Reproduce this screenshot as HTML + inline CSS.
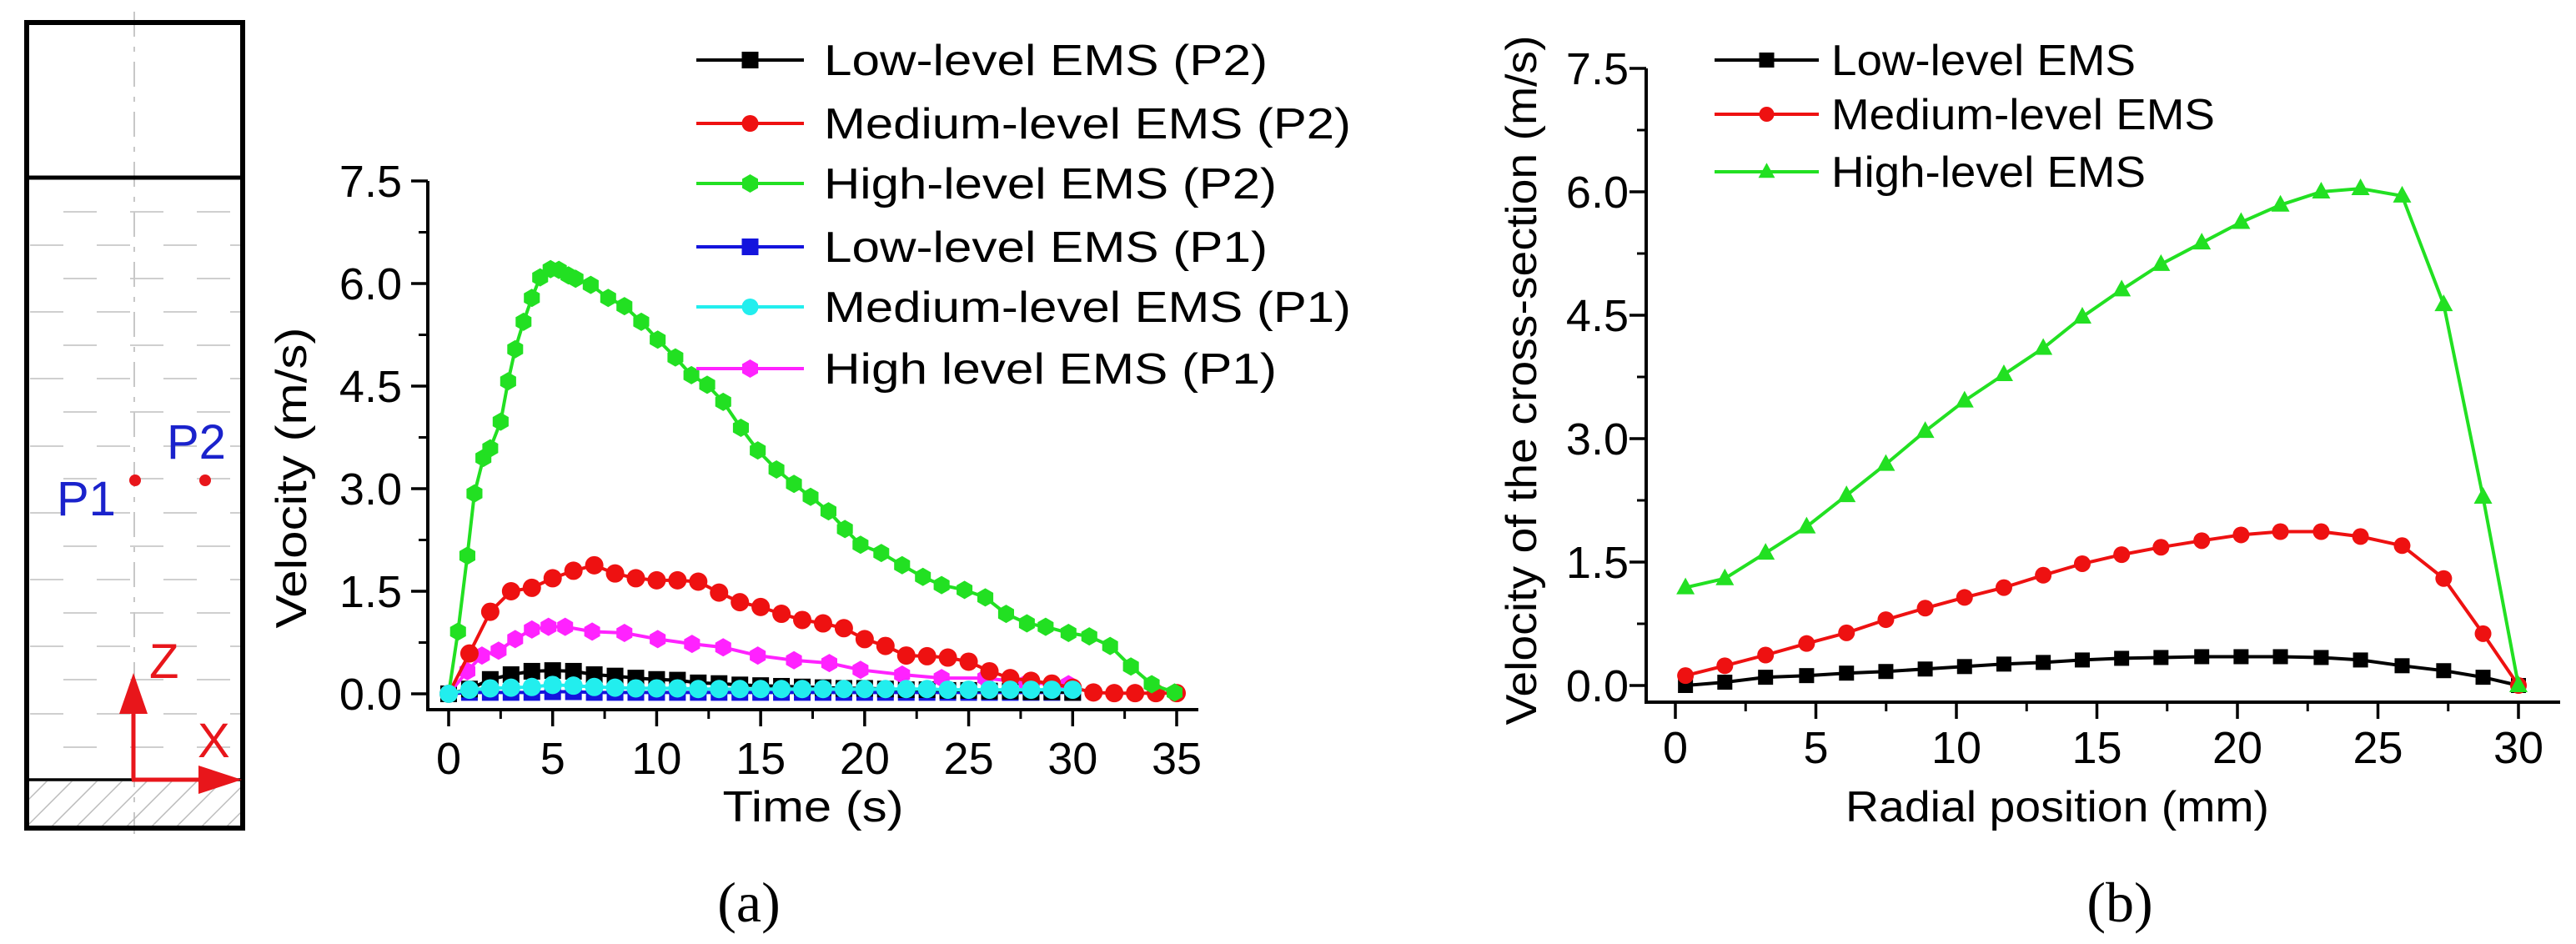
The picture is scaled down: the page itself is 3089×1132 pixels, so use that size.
<!DOCTYPE html>
<html><head><meta charset="utf-8">
<style>
html,body{margin:0;padding:0;background:#fff;}
svg{display:block;font-family:"Liberation Sans",Arial,sans-serif;}
</style></head>
<body>
<svg id="fig" width="3089" height="1132" viewBox="0 0 3089 1132" xmlns="http://www.w3.org/2000/svg">
<defs><clipPath id="hatch-clip"><rect x="35" y="937" width="253" height="54"/></clipPath></defs>
<g id="diagram"></g>
<g id="chartA"></g>
<g id="chartB"></g>
<text x="898" y="1105" font-family="Liberation Serif,serif" font-size="68" text-anchor="middle">(a)</text>
<text x="2542" y="1105" font-family="Liberation Serif,serif" font-size="68" text-anchor="middle">(b)</text>
</svg>
<script>
// ---------- Chart (a) data ----------
const aHighP2T = [0,0.45,0.9,1.24,1.67,2.0,2.5,2.86,3.2,3.6,4.0,4.4,4.9,5.3,5.76,6.1,6.83,7.67,8.45,9.26,10.05,10.9,11.67,12.43,13.2,14.05,14.86,15.76,16.6,17.4,18.26,19.05,19.8,20.8,21.8,22.8,23.7,24.8,25.8,26.8,27.8,28.7,29.8,30.8,31.8,32.8,33.8,34.9];
const aHighP2V = [0,0.91,2.02,2.93,3.45,3.59,3.98,4.57,5.04,5.44,5.79,6.09,6.21,6.2,6.12,6.07,5.98,5.79,5.67,5.44,5.18,4.92,4.66,4.52,4.27,3.89,3.56,3.28,3.07,2.88,2.67,2.41,2.18,2.06,1.88,1.71,1.59,1.52,1.41,1.17,1.03,0.98,0.89,0.84,0.70,0.40,0.14,0.02];
const aMedP2T = [0,1,2,3,4,5,6,7,8,9,10,11,12,13,14,15,16,17,18,19,20,21,22,23,24,25,26,27,28,29,30,31,32,33,34,35];
const aMedP2V = [0,0.59,1.2,1.5,1.55,1.69,1.8,1.88,1.76,1.69,1.66,1.66,1.64,1.48,1.34,1.27,1.17,1.08,1.03,0.96,0.80,0.70,0.56,0.55,0.53,0.47,0.33,0.23,0.19,0.15,0.09,0.02,0.01,0.01,0.01,0.01];
const aHighP1T = [0,0.9,1.6,2.4,3.2,4.0,4.8,5.6,6.9,8.45,10.05,11.7,13.2,14.86,16.6,18.3,19.8,21.8,23.7,25.8,27.8,29.8];
const aHighP1V = [0,0.33,0.56,0.63,0.80,0.94,0.98,0.98,0.91,0.89,0.80,0.73,0.68,0.56,0.49,0.45,0.35,0.28,0.23,0.23,0.16,0.14];
const aT30 = [0,1,2,3,4,5,6,7,8,9,10,11,12,13,14,15,16,17,18,19,20,21,22,23,24,25,26,27,28,29,30];
const aLowP2V = [0,0.07,0.21,0.28,0.33,0.34,0.33,0.28,0.26,0.23,0.21,0.2,0.16,0.15,0.13,0.12,0.11,0.1,0.09,0.08,0.08,0.07,0.06,0.06,0.05,0.05,0.04,0.04,0.03,0.03,0.02];
const aMedP1V = [0,0.06,0.08,0.09,0.1,0.13,0.12,0.1,0.09,0.08,0.08,0.08,0.07,0.07,0.07,0.07,0.07,0.07,0.07,0.07,0.07,0.07,0.07,0.07,0.06,0.06,0.06,0.06,0.06,0.06,0.06];
const aLowP1V = [0,0.02,0.02,0.02,0.02,0.03,0.03,0.02,0.02,0.02,0.02,0.02,0.02,0.02,0.02,0.02,0.02,0.02,0.02,0.02,0.02,0.02,0.02,0.02,0.02,0.02,0.02,0.02,0.02,0.02,0.02];
const aXTicks = [0,5,10,15,20,25,30,35];
const aYTicks = [0,1.5,3,4.5,6,7.5];
const aYLabels = ["0.0","1.5","3.0","4.5","6.0","7.5"];
const aLegend = ["Low-level EMS (P2)","Medium-level EMS (P2)","High-level EMS (P2)","Low-level EMS (P1)","Medium-level EMS (P1)","High level EMS (P1)"];

// ---------- Chart (b) data ----------
const bR = [0.36,1.76,3.21,4.67,6.09,7.49,8.89,10.29,11.69,13.09,14.48,15.88,17.28,18.73,20.13,21.53,22.98,24.38,25.86,27.34,28.74,30];
const bHigh = [1.19,1.30,1.61,1.93,2.31,2.69,3.09,3.46,3.78,4.10,4.48,4.81,5.12,5.38,5.63,5.84,6.00,6.04,5.95,4.63,2.29,0];
const bMed = [0.12,0.24,0.37,0.51,0.64,0.80,0.94,1.07,1.19,1.34,1.48,1.59,1.68,1.76,1.83,1.87,1.87,1.81,1.70,1.30,0.63,0];
const bLow = [0,0.04,0.10,0.12,0.15,0.17,0.20,0.23,0.26,0.28,0.31,0.33,0.34,0.35,0.35,0.35,0.34,0.31,0.24,0.18,0.10,0];
const bXTicks = [0,5,10,15,20,25,30];
const bYTicks = [0,1.5,3,4.5,6,7.5];
const bYLabels = ["0.0","1.5","3.0","4.5","6.0","7.5"];
const bLegend = ["Low-level EMS","Medium-level EMS","High-level EMS"];

const NS = "http://www.w3.org/2000/svg";
function mk(tag, attrs, parent){
  const e = document.createElementNS(NS, tag);
  for (const k in attrs) e.setAttribute(k, attrs[k]);
  if (parent) parent.appendChild(e);
  return e;
}
function marker(g, shape, x, y, s, color){
  let e;
  if (shape === "square") e = mk("rect", {x:x-s, y:y-s, width:2*s, height:2*s, fill:color}, g);
  else if (shape === "circle") e = mk("circle", {cx:x, cy:y, r:s, fill:color}, g);
  else if (shape === "hex") {
    const p=[]; for(let i=0;i<6;i++){const a=Math.PI/6+i*Math.PI/3; p.push((x+s*1.1*Math.cos(a)).toFixed(1)+","+(y+s*1.1*Math.sin(a)).toFixed(1));}
    e = mk("polygon", {points:p.join(" "), fill:color}, g);
  } else if (shape === "tri") {
    e = mk("polygon", {points:`${x},${y-s*1.2} ${x-s*1.1},${y+s*0.8} ${x+s*1.1},${y+s*0.8}`, fill:color}, g);
  }
  return e;
}

// ---------- Diagram ----------
(function(){
  const g = document.getElementById("diagram");
  const rows = [254,294,334,374,414,454,494,535,574,615,655,695,735,775,815,856,896];
  rows.forEach((y,i)=>{
    const l = mk("line",{x1:36,y1:y,x2:288,y2:y,stroke:"#cfcfcf","stroke-width":2,"stroke-dasharray":"40 40","stroke-dashoffset":(i%2?0:40)},g);
    
    
  });
  const cl = mk("line",{x1:161,y1:14,x2:161,y2:1000,stroke:"#c8c8c8","stroke-width":2,"stroke-dasharray":"30 12 6 12"},g);
  
  
  const hg = mk("g",{"clip-path":"url(#hatch-clip)"},g);
  
  
  for (let x=0; x<320; x+=30){
    mk("line",{x1:x,y1:993,x2:x+58,y2:935,stroke:"#bbbbbb","stroke-width":1.5},hg);
  }
  const box = mk("rect",{x:32,y:27,width:259,height:966,fill:"none",stroke:"#000","stroke-width":6},g);
  
  
  const top = mk("line",{x1:32,y1:213,x2:291,y2:213,stroke:"#000","stroke-width":5},g);
  
  
  const bot = mk("line",{x1:32,y1:935,x2:291,y2:935,stroke:"#000","stroke-width":3.5},g);
  
  
  const d1 = mk("circle",{cx:162,cy:576,r:7,fill:"#e8161b"},g);
  
  
  const d2 = mk("circle",{cx:246,cy:576,r:7,fill:"#e8161b"},g);
  
  
  const t1 = mk("text",{x:68,y:618,"font-size":58,fill:"#1a22cc"},g); t1.textContent="P1";
  
  
  const t2 = mk("text",{x:200,y:550,"font-size":58,fill:"#1a22cc"},g); t2.textContent="P2";
  
  
  const red="#e8161b";
  const za = mk("g",{},g);
  
  
  mk("line",{x1:160,y1:935,x2:160,y2:852,stroke:red,"stroke-width":5},za);
  mk("polygon",{points:"160,807 143,856 177,856",fill:red},za);
  const xa = mk("g",{},g);
  
  
  mk("line",{x1:158,y1:935,x2:242,y2:935,stroke:red,"stroke-width":5},xa);
  mk("polygon",{points:"290,935 238,918 238,952",fill:red},xa);
  const tz = mk("text",{x:179,y:813,"font-size":58,fill:red},g); tz.textContent="Z";
  
  
  const tx = mk("text",{x:237,y:908,"font-size":58,fill:red},g); tx.textContent="X";
  
  
})();

// ---------- generic chart ----------
function drawAxes(g, cfg){
  const {xScale,yScale,axX,axY,axRight,axTop,xTicks,xMinor,yTicks,yLabels,yMinorStep,yMax,tickBase,ylabRight} = cfg;
  const ax = mk("path",{d:`M${axX},${axTop} L${axX},${axY} L${axRight},${axY}`,fill:"none",stroke:"#000","stroke-width":4},g);
  
  
  xTicks.forEach(v=>{
    const x=xScale(v);
    mk("line",{x1:x,y1:axY,x2:x,y2:axY+20,stroke:"#000","stroke-width":3.5},g);
    const t=mk("text",{x:x,y:tickBase,"font-size":54,"text-anchor":"middle"},g); t.textContent=v;
    
    
  });
  xMinor.forEach(v=>{ const x=xScale(v); mk("line",{x1:x,y1:axY,x2:x,y2:axY+11,stroke:"#000","stroke-width":3},g); });
  for (let v=0; v<=yMax+1e-6; v+=yMinorStep){
    const y=yScale(v);
    mk("line",{x1:axX,y1:y,x2:axX-11,y2:y,stroke:"#000","stroke-width":3},g);
  }
  yTicks.forEach((v,i)=>{
    const y=yScale(v);
    mk("line",{x1:axX,y1:y,x2:axX-20,y2:y,stroke:"#000","stroke-width":3.5},g);
    const t=mk("text",{x:ylabRight,y:y+19,"font-size":54,"text-anchor":"end"},g); t.textContent=yLabels[i];
    
    
  });
}
function drawSeries(g, xs, ys, xScale, yScale, color, shape, size, name){
  const sg = mk("g",{},g);
  
  
  const pts = xs.map((x,i)=>xScale(x).toFixed(1)+","+yScale(ys[i]).toFixed(1)).join(" ");
  mk("polyline",{points:pts,fill:"none",stroke:color,"stroke-width":4},sg);
  xs.forEach((x,i)=>{
    const m = marker(sg, shape, xScale(x), yScale(ys[i]), size, color);
    
    
  });
}
function legendEntry(g, x1, x2, y, color, shape, size, label, tx, tlen){
  const lg = mk("g",{},g);
  
  
  mk("line",{x1:x1,y1:y,x2:x2,y2:y,stroke:color,"stroke-width":4},lg);
  marker(lg, shape, (x1+x2)/2, y, size, color);
  const t = mk("text",{x:tx,y:y+18,"font-size":52,textLength:tlen,lengthAdjust:"spacingAndGlyphs"},lg);
  t.textContent = label;
}

// ---------- Chart (a) ----------
(function(){
  const g = document.getElementById("chartA");
  const xScale = v => 538 + v*(1411-538)/35;
  const yScale = v => 832 - v*(832-217)/7.5;
  drawAxes(g,{xScale,yScale,axX:513,axY:851,axRight:1437,axTop:217,xTicks:aXTicks,xMinor:[2.5,7.5,12.5,17.5,22.5,27.5,32.5],yTicks:aYTicks,yLabels:aYLabels,yMinorStep:0.75,yMax:7.5,tickBase:928,ylabRight:482});
  drawSeries(g,aT30,aLowP1V,xScale,yScale,"#1414dd","square",10,"series-low-p1");
  drawSeries(g,aT30,aLowP2V,xScale,yScale,"#000000","square",10,"series-low-p2");
  drawSeries(g,aHighP1T,aHighP1V,xScale,yScale,"#ff22ff","hex",10,"series-high-p1");
  drawSeries(g,aMedP2T,aMedP2V,xScale,yScale,"#ee1111","circle",11,"series-medium-p2");
  drawSeries(g,aHighP2T,aHighP2V,xScale,yScale,"#22e022","hex",10,"series-high-p2");
  drawSeries(g,aT30,aMedP1V,xScale,yScale,"#22eeee","circle",11,"series-medium-p1");
  const xt = mk("text",{x:975,y:985,"font-size":52,"text-anchor":"middle",textLength:217,lengthAdjust:"spacingAndGlyphs"},g); xt.textContent="Time (s)";
  
  
  const yt = mk("text",{x:0,y:0,"font-size":52,"text-anchor":"middle",textLength:361,lengthAdjust:"spacingAndGlyphs",transform:"translate(367,573) rotate(-90)"},g); yt.textContent="Velocity (m/s)";
  
  
  const lgY=[72,148,220,296,368,442];
  const cols=["#000000","#ee1111","#22e022","#1414dd","#22eeee","#ff22ff"];
  const shp=["square","circle","hex","square","circle","hex"];
  const lens=[532,632,543,532,632,543];
  aLegend.forEach((l,i)=>legendEntry(g,835,964,lgY[i],cols[i],shp[i],10,l,988,lens[i]));
})();

// ---------- Chart (b) ----------
(function(){
  const g = document.getElementById("chartB");
  const xScale = v => 2009 + v*(3020-2009)/30;
  const yScale = v => 822 - v*(822-82)/7.5;
  drawAxes(g,{xScale,yScale,axX:1974,axY:842,axRight:3070,axTop:82,xTicks:bXTicks,xMinor:[2.5,7.5,12.5,17.5,22.5,27.5],yTicks:bYTicks,yLabels:bYLabels,yMinorStep:0.75,yMax:7.5,tickBase:915,ylabRight:1953});
  drawSeries(g,bR,bLow,xScale,yScale,"#000000","square",9,"series-low");
  drawSeries(g,bR,bMed,xScale,yScale,"#ee1111","circle",10,"series-medium");
  drawSeries(g,bR,bHigh,xScale,yScale,"#22e022","tri",10,"series-high");
  const xt = mk("text",{x:2467,y:985,"font-size":52,"text-anchor":"middle",textLength:508,lengthAdjust:"spacingAndGlyphs"},g); xt.textContent="Radial position (mm)";
  
  
  const yt = mk("text",{x:0,y:0,"font-size":52,"text-anchor":"middle",textLength:827,lengthAdjust:"spacingAndGlyphs",transform:"translate(1842,456) rotate(-90)"},g); yt.textContent="Velocity of the cross-section (m/s)";
  
  
  const lgY=[72,137,206];
  const cols=["#000000","#ee1111","#22e022"];
  const shp=["square","circle","tri"];
  const lens=[365,460,377];
  bLegend.forEach((l,i)=>legendEntry(g,2056,2181,lgY[i],cols[i],shp[i],9,l,2196,lens[i]));
})();
</script>
</body></html>
